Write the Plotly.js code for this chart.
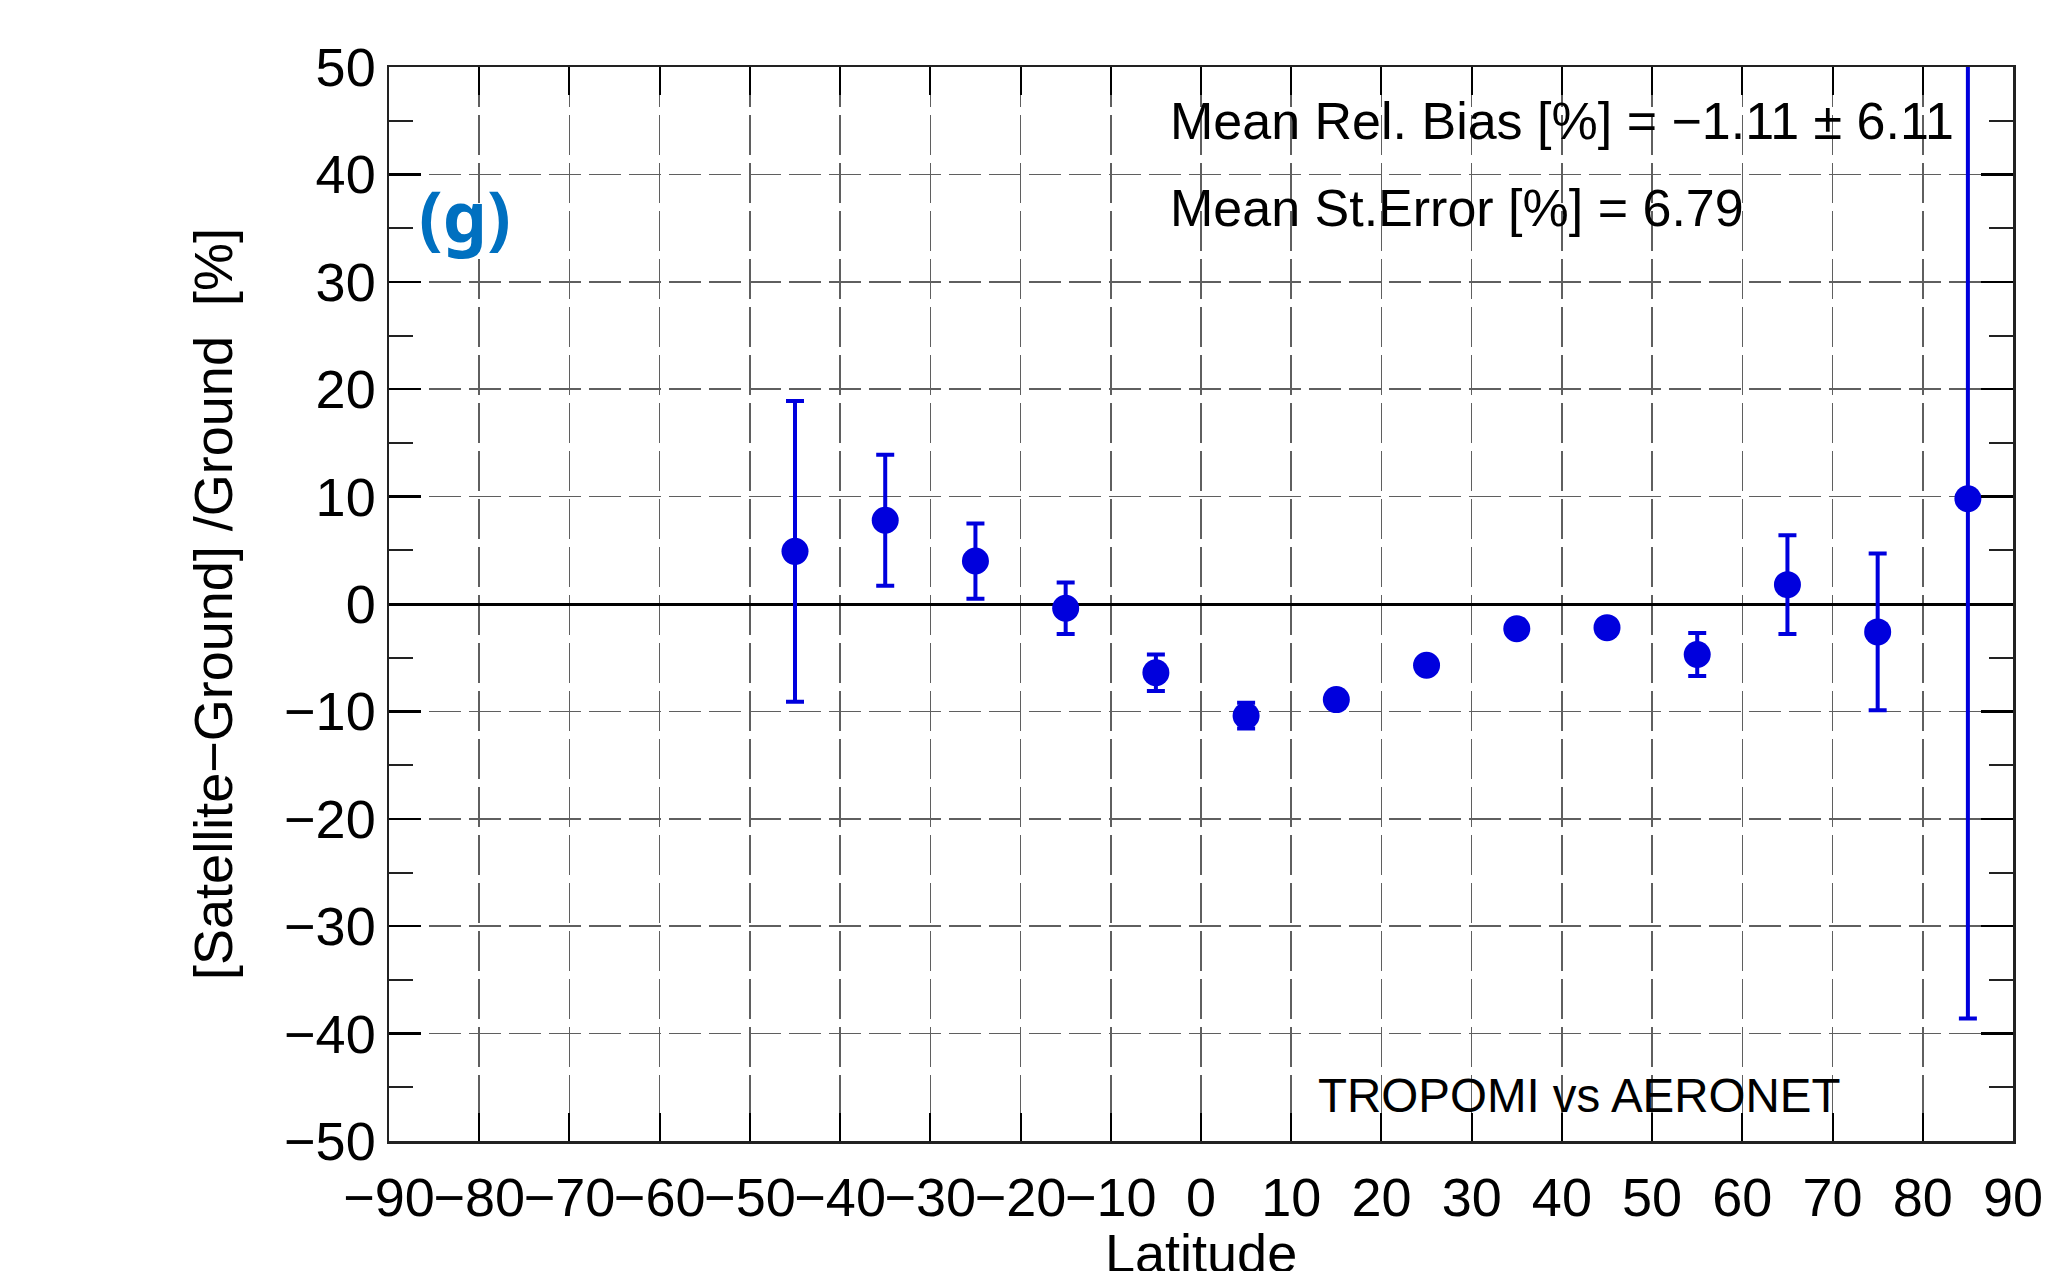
<!DOCTYPE html>
<html>
<head>
<meta charset="utf-8">
<script src="https://cdn.plot.ly/plotly-3.0.1.min.js"></script>
<style>html,body{margin:0;padding:0;background:#fff;}#chart{width:2063px;height:1271px;}</style>
</head>
<body>
<div id="chart"></div>
<script>
// Latitude bin centres (degrees)
const latitude = [-45, -35, -25, -15, -5, 5, 15, 25, 35, 45, 55, 65, 75, 85];
// Mean relative bias [%] per bin
const relBias = [4.9, 7.8, 4.0, -0.4, -6.4, -10.4, -8.9, -5.7, -2.3, -2.2, -4.7, 1.8, -2.6, 9.8];
// Error bar half-length [%]
const biasErr = [14.0, 6.1, 3.5, 2.4, 1.7, 1.2, 0.6, 0.5, 0.5, 0.5, 2.0, 4.6, 7.3, 48.4];
const xTicks = [-90, -80, -70, -60, -50, -40, -30, -20, -10, 0, 10, 20, 30, 40, 50, 60, 70, 80, 90];
const yTicks = [-50, -40, -30, -20, -10, 0, 10, 20, 30, 40, 50];
const xTitle = 'Latitude';
const yTitle = '[Satellite\u2212Ground] /Ground&nbsp;&nbsp;[%]';
const statText1 = 'Mean Rel. Bias [%] = \u22121.11 \u00b1 6.11';
const statText2 = 'Mean St.Error [%] = 6.79';
const pairText = 'TROPOMI vs AERONET';
const panelLabel = '(g)';

const FONT = 'Liberation Sans, Arial, Helvetica, sans-serif';
const blue = '#0000dd';

const trace = {
  type: 'scatter', mode: 'markers',
  x: latitude, y: relBias,
  marker: {color: blue, size: 27, line: {width: 0}},
  error_y: {type: 'data', array: biasErr, visible: true, color: blue, thickness: 4, width: 9},
  showlegend: false, hoverinfo: 'x+y'
};

const gridCol = 'rgb(95,95,95)';
const layout = {
  width: 2063, height: 1271,
  margin: {l: 389, r: 50, t: 67, b: 130},
  paper_bgcolor: '#fff', plot_bgcolor: '#fff',
  font: {family: FONT, color: '#000', size: 54},
  showlegend: false,
  xaxis: {
    range: [-90, 90], tickmode: 'array', tickvals: xTicks, ticktext: xTicks.map(v => v < 0 ? '\u2212' + Math.abs(v) : String(v)),
    tickangle: 0, tickfont: {size: 54, family: FONT}, ticklabelstandoff: 8,
    ticks: 'inside', ticklen: 28, tickwidth: 2, tickcolor: '#000',
    showline: true, linecolor: '#222', linewidth: 2.5, mirror: 'ticks',
    showgrid: true, gridcolor: gridCol, gridwidth: 1.5, griddash: '40px,8px',
    zeroline: false,
    automargin: false, fixedrange: true
  },
  yaxis: {
    range: [-50, 50], tickmode: 'array', tickvals: yTicks, ticktext: yTicks.map(v => v < 0 ? '\u2212' + Math.abs(v) : String(v)),
    tickfont: {size: 54, family: FONT},
    ticks: 'inside', ticklen: 32, tickwidth: 2.5, tickcolor: '#000',
    minor: {dtick: 5, tick0: 0, ticks: 'inside', ticklen: 24, tickwidth: 2, tickcolor: '#222', showgrid: false},
    showline: true, linecolor: '#222', linewidth: 2.5, mirror: 'ticks',
    showgrid: true, gridcolor: gridCol, gridwidth: 1.5, griddash: '32px,8px',
    zeroline: true, zerolinecolor: '#000', zerolinewidth: 3,
    title: {text: yTitle, font: {size: 54, family: FONT}, standoff: 34},
    automargin: false, fixedrange: true
  },
  annotations: [
    {xref: 'paper', yref: 'paper', x: 0.5, y: -0.1043, xanchor: 'center', yanchor: 'middle', showarrow: false,
     text: xTitle, font: {size: 54, family: FONT, color: '#000'}},
    {xref: 'paper', yref: 'paper', x: 0.4797, y: 0.9497, xanchor: 'left', yanchor: 'middle', showarrow: false,
     text: statText1, font: {size: 52, family: FONT, color: '#000'}},
    {xref: 'paper', yref: 'paper', x: 0.4797, y: 0.8687, xanchor: 'left', yanchor: 'middle', showarrow: false,
     text: statText2, font: {size: 52, family: FONT, color: '#000'}},
    {xref: 'paper', yref: 'paper', x: 0.5708, y: 0.0419, xanchor: 'left', yanchor: 'middle', showarrow: false,
     text: pairText, font: {size: 47.5, family: FONT, color: '#000'}},
    {xref: 'paper', yref: 'paper', x: 0.0468, y: 0.862, xanchor: 'center', yanchor: 'middle', showarrow: false,
     text: '<b>' + panelLabel + '</b>', font: {size: 70, family: 'Noto Sans, Open Sans, sans-serif', color: '#0070c0'}}
  ]
};

Plotly.newPlot('chart', [trace], layout, {displayModeBar: false, staticPlot: true});
</script>
</body>
</html>
